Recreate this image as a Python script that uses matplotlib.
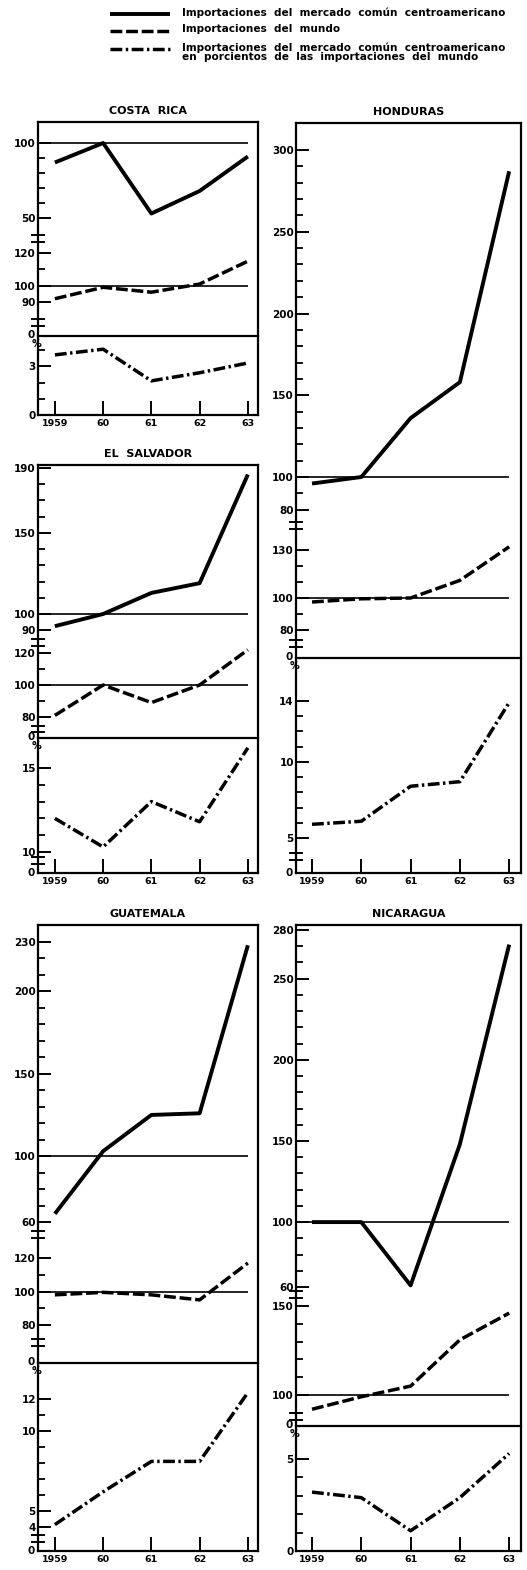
import matplotlib

matplotlib.use("Agg")

import matplotlib.pyplot as plt
from matplotlib.lines import Line2D

years = [1959, 1960, 1961, 1962, 1963]
year_labels = ["1959", "60", "61", "62", "63"]

# indices 1960 = 100, and share of CACM imports in total imports (%)
costa_rica_mcca = [87, 100, 53, 68, 91]
costa_rica_world = [92, 99, 96, 101, 115]
costa_rica_pct = [3.7, 4.05, 2.1, 2.6, 3.2]

honduras_mcca = [96, 100, 136, 158, 287]
honduras_world = [97.5, 99.5, 100, 111, 132]
honduras_pct = [5.9, 6.1, 8.4, 8.7, 13.9]

salvador_mcca = [92.5, 100, 113, 119, 186]
salvador_world = [81, 100, 89, 100, 122]
salvador_pct = [12.0, 10.3, 13.0, 11.8, 16.2]

guatemala_mcca = [65, 103, 125, 126, 228]
guatemala_world = [98, 99.5, 98, 95, 117]
guatemala_pct = [4.15, 6.2, 8.1, 8.1, 12.4]

nicaragua_mcca = [100, 100, 61, 148, 271]
nicaragua_world = [92, 99, 105, 131, 146]
nicaragua_pct = [3.2, 2.9, 1.1, 2.9, 5.3]

legend_labels = [
    "Importaciones  del  mercado  común  centroamericano",
    "Importaciones  del  mundo",
    "Importaciones  del  mercado  común  centroamericano\n"
    "en  porcientos  de  las  importaciones  del  mundo",
]

plt.rcParams["font.family"] = ["DejaVu Sans"]
plt.rcParams["font.weight"] = "bold"

W, H = 527, 1570
fig = plt.figure(figsize=(W / 100, H / 100), dpi=100)
fig.patch.set_facecolor("white")

STYLES = {
    "solid": dict(color="black", lw=2.8, linestyle="-", solid_capstyle="butt"),
    "dash": dict(color="black", lw=2.5, linestyle=(0, (3.4, 1.1))),
    "dashdot": dict(color="black", lw=2.5, linestyle=(0, (3.4, 1.0, 0.7, 1.0))),
}


def rect(x0, y0, x1, y1):
    return [x0 / W, 1 - y1 / H, (x1 - x0) / W, (y1 - y0) / H]


def fig_line(xs, ys, **kw):
    fig.add_artist(Line2D([x / W for x in xs], [1 - y / H for y in ys],
                          transform=fig.transFigure, **kw))


def fig_text(x, y, s, **kw):
    fig.text(x / W, 1 - y / H, s, **kw)


def section(box, xlim, top, bot, cal, major, minor, values, style,
            ref=True, xaxis=False, divider=False, zero=False):
    x0, _, x1, _ = box
    (va, pa), (vb, pb) = cal
    slope = (vb - va) / (pb - pa)
    ax = fig.add_axes(rect(x0, top, x1, bot))
    ax.patch.set_alpha(0)
    for name, sp in ax.spines.items():
        sp.set_visible(name == "top" and divider)
        sp.set_linewidth(1.6)
    ax.set_xlim(*xlim)
    ax.set_ylim(va + (bot - pa) * slope, va + (top - pa) * slope)
    ax.set_yticks(major, [str(v) for v in major])
    ax.set_yticks(minor, minor=True)
    ax.tick_params(axis="y", which="major", direction="in", length=9,
                   width=1.4, pad=1.5, labelsize=7.5)
    ax.tick_params(axis="y", which="minor", direction="in", length=5, width=1.3)
    if xaxis:
        ax.set_xticks(years, year_labels)
        ax.tick_params(axis="x", direction="in", length=10, width=1.4,
                       pad=3, labelsize=6.8)
    else:
        ax.set_xticks([])
    if ref:
        ax.hlines(100, xlim[0], years[-1], color="black", lw=1.2)
    ax.plot(years, values, clip_on=False, **STYLES[style])
    if zero:
        fig_text(x0 - 3, bot - 1, "0", ha="right", va="center", fontsize=7.5)
    return ax


def panel(title, box, xlim, parts, breaks, pct_top, bottom_zero):
    x0, y0, x1, y1 = box
    frame = fig.add_axes(rect(*box))
    frame.set_xticks([])
    frame.set_yticks([])
    frame.patch.set_alpha(0)
    for sp in frame.spines.values():
        sp.set_linewidth(1.6)
    fig_text((x0 + x1) / 2, y0 - 11, title, ha="center", va="center",
             fontsize=8)
    for i, p in enumerate(parts):
        section(box, xlim, *p, xaxis=(i == len(parts) - 1),
                divider=(i == len(parts) - 1), zero=(i == 1))
    for b in breaks:
        for dy in (-3.5, 3.5):
            fig_line([x0 - 6, x0 + 6], [b + dy, b + dy], color="black", lw=1.4)
    fig_text(x0 - 1, pct_top + 8, "%", ha="center", va="center", fontsize=7)
    if bottom_zero:
        fig_text(x0 - 3, y1, "0", ha="right", va="center", fontsize=7.5)


LEFT_X = (38, 258)
RIGHT_X = (296, 521)
LEFT_LIM = (1958.65, 1963.21)
RIGHT_LIM = (1958.675, 1963.24)

panel("COSTA  RICA", (LEFT_X[0], 122, LEFT_X[1], 415), LEFT_LIM, [
    (122, 238, ((100, 143), (50, 218)), [100, 50], [60, 70, 80, 90],
     costa_rica_mcca, "solid"),
    (238, 336, ((120, 253), (90, 302)), [120, 100, 90], [110],
     costa_rica_world, "dash"),
    (336, 415, ((0, 415), (4, 350)), [3, 0], [1, 2, 4],
     costa_rica_pct, "dashdot", False),
], [238, 322], 336, False)

panel("HONDURAS", (RIGHT_X[0], 123, RIGHT_X[1], 873), RIGHT_LIM, [
    (123, 525, ((300, 150), (100, 477)), [300, 250, 200, 150, 100, 80],
     [v for v in range(90, 300, 10) if v % 50], honduras_mcca, "solid"),
    (525, 658, ((130, 550), (80, 630)), [130, 100, 80], [90, 110, 120],
     honduras_world, "dash"),
    (658, 873, ((14, 701), (5, 838)), [14, 10, 5], [6, 7, 8, 9, 11, 12, 13],
     honduras_pct, "dashdot", False),
], [525, 643, 856], 658, True)

panel("EL  SALVADOR", (LEFT_X[0], 465, LEFT_X[1], 873), LEFT_LIM, [
    (465, 642, ((190, 468), (100, 614)), [190, 150, 100, 90],
     [110, 120, 130, 140, 160, 170, 180], salvador_mcca, "solid"),
    (642, 738, ((120, 653), (80, 717)), [120, 100, 80], [90, 110],
     salvador_world, "dash"),
    (738, 873, ((15, 768), (10, 852)), [15, 10], [11, 12, 13, 14],
     salvador_pct, "dashdot", False),
], [642, 729, 860], 738, True)

panel("GUATEMALA", (LEFT_X[0], 925, LEFT_X[1], 1551), LEFT_LIM, [
    (925, 1234, ((230, 942), (60, 1222)), [230, 200, 150, 100, 60],
     [v for v in range(70, 230, 10) if v not in (100, 150, 200)],
     guatemala_mcca, "solid"),
    (1234, 1363, ((120, 1258), (80, 1325)), [120, 100, 80], [90, 110],
     guatemala_world, "dash"),
    (1363, 1551, ((12, 1399), (4, 1527)), [12, 10, 5, 4], [6, 7, 8, 9, 11],
     guatemala_pct, "dashdot", False),
], [1234, 1342, 1538], 1363, True)

panel("NICARAGUA", (RIGHT_X[0], 925, RIGHT_X[1], 1551), RIGHT_LIM, [
    (925, 1293, ((280, 930), (60, 1287)), [280, 250, 200, 150, 100, 60],
     [v for v in range(70, 280, 10) if v % 50], nicaragua_mcca, "solid"),
    (1293, 1426, ((150, 1306), (100, 1395)), [150, 100],
     [90, 110, 120, 130, 140], nicaragua_world, "dash"),
    (1426, 1551, ((5, 1459), (0, 1551)), [5, 0], [1, 2, 3, 4],
     nicaragua_pct, "dashdot", False),
], [1294, 1416], 1426, False)

# legend block at the top
for (y, style), label in zip([(14, "solid"), (31, "dash"), (49, "dashdot")],
                             legend_labels):
    fig_line([110, 170], [y, y], **STYLES[style])
    fig_text(182, y - 6.5, label, ha="left", va="top", fontsize=7.6,
             linespacing=0.92)

fig.savefig("out.png", dpi=100, facecolor="white")
plt.close(fig)
